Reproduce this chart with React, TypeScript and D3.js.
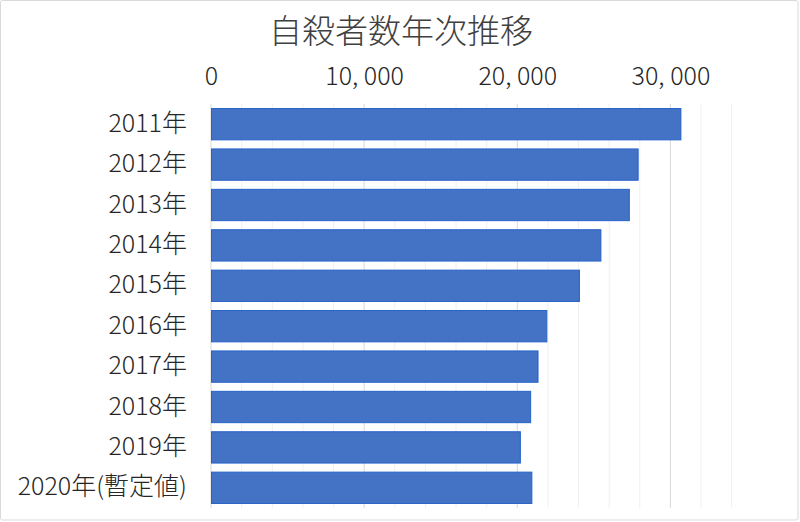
import React, { useEffect, useRef } from 'react'
import * as d3 from 'd3'

const WIDTH = 800
const HEIGHT = 522
const MARGIN = { top: 104, right: 52, bottom: 14, left: 211 }

const title = '自殺者数年次推移'
const years = ['2011年', '2012年', '2013年', '2014年', '2015年', '2016年', '2017年', '2018年', '2019年', '2020年(暫定値)']
const counts = [30651, 27858, 27283, 25427, 24025, 21897, 21321, 20840, 20169, 20919]
const majorTicks = [0, 10000, 20000, 30000]
const minorTicks = d3.range(0, 34001, 2000)
const axisMax = 35000

const FONT = '"Noto Sans CJK JP", sans-serif'

export default function App() {
  const ref = useRef<SVGGElement>(null)

  const boundsWidth = WIDTH - MARGIN.left - MARGIN.right
  const boundsHeight = HEIGHT - MARGIN.top - MARGIN.bottom

  const xScale = d3.scaleLinear().domain([0, axisMax]).range([0, 536])
  const yScale = d3.scaleBand<string>().domain(years).range([0, 404]).paddingInner(0.2).paddingOuter(0.1)

  useEffect(() => {
    const g = d3.select(ref.current)
    g.selectAll('*').remove()

    // gridlines
    g.append('g')
      .selectAll('line')
      .data(minorTicks)
      .join('line')
      .attr('x1', (d) => xScale(d))
      .attr('x2', (d) => xScale(d))
      .attr('y1', 0)
      .attr('y2', 404)
      .attr('stroke', (d) => (d % 10000 === 0 ? '#d9d9d9' : '#f0f0f0'))
      .attr('stroke-width', 1)

    // top axis labels
    const xAxis = d3.axisTop(xScale)
      .tickValues(majorTicks)
      .tickSize(0)
      .tickPadding(19)
      .tickFormat((d) => d3.format(',')(d as number).replace(',', ', '))
    const ax = g.append('g').call(xAxis)
    ax.select('.domain').remove()
    ax.selectAll('text')
      .attr('font-family', FONT)
      .attr('font-size', 25)
      .attr('font-weight', 300)
      .attr('fill', '#262626')
      .style('white-space', 'pre')

    // left axis labels
    const yAxis = d3.axisLeft(yScale).tickSize(0).tickPadding(24)
    const ay = g.append('g').call(yAxis)
    ay.select('.domain').remove()
    ay.selectAll('text')
      .attr('font-family', FONT)
      .attr('font-size', 25)
      .attr('font-weight', 300)
      .attr('fill', '#262626')
      .attr('dy', '0.3em')

    // bars
    g.append('g')
      .selectAll('rect')
      .data(counts)
      .join('rect')
      .attr('x', xScale(0) + 0.5)
      .attr('y', (_, i) => (yScale(years[i]) ?? 0) + 0.5)
      .attr('width', (d) => xScale(d) - xScale(0))
      .attr('height', yScale.bandwidth() - 1)
      .attr('fill', '#4472c4')
      .attr('stroke', '#2563c8')
      .attr('stroke-width', 1)
  }, [])

  return (
    <svg width={WIDTH} height={HEIGHT} style={{ position: 'absolute', left: 0, top: 0, background: '#fff' }}>
      <rect x={0.5} y={0.5} width={797.5} height={519.5} rx={2} fill="#fff" stroke="#d9d9d9" />
      <text x={401} y={43} textAnchor="middle" fontFamily={FONT} fontSize={33} fontWeight={300} fill="#404040">
        {title}
      </text>
      <g
        width={boundsWidth}
        height={boundsHeight}
        ref={ref}
        transform={`translate(${[MARGIN.left, MARGIN.top].join(',')})`}
      />
    </svg>
  )
}
